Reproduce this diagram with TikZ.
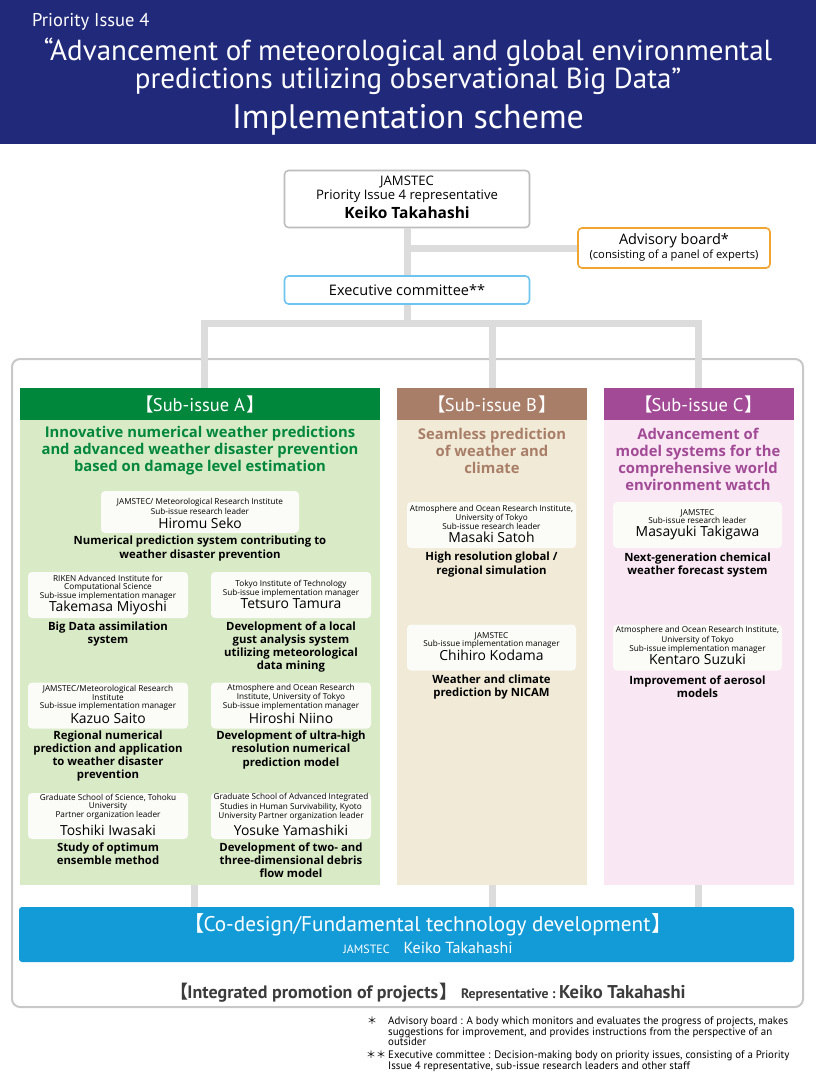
\documentclass[tikz,border=0pt]{standalone}
\usepackage{fontspec}
\setmainfont{Open Sans}
\newfontfamily\cond{PT Sans}
\newfontfamily\cjk{Noto Sans CJK JP}
\definecolor{bandnavy}{HTML}{212A7A}
\definecolor{linkgray}{HTML}{DCDCDC}
\definecolor{framegray}{HTML}{C8C8C8}
\definecolor{boxgray}{HTML}{BDBDBD}
\definecolor{advorange}{HTML}{F0A530}
\definecolor{execblue}{HTML}{6EC4EF}
\definecolor{greenA}{HTML}{00873C}
\definecolor{bodyA}{HTML}{D9EAC7}
\definecolor{brownB}{HTML}{A97E69}
\definecolor{bodyB}{HTML}{F1EAD6}
\definecolor{purpleC}{HTML}{A24A96}
\definecolor{bodyC}{HTML}{F9E7F3}
\definecolor{personfill}{HTML}{FBFBF7}
\definecolor{codeblue}{HTML}{139BD8}
\definecolor{integgray}{HTML}{3C3C3C}
\newcommand{\lbr}{{\cjk 【}\kern-1pt}
\newcommand{\rbr}{\kern1pt{\cjk 】}}
\begin{document}
\begin{tikzpicture}[x=1pt, y=-1pt]
\tikzstyle{link} = [draw=linkgray, line width=7]
\tikzstyle{topbox} = [draw, line width=1.6, rounded corners=4, fill=white, inner sep=0]
\tikzstyle{subhead} = [inner sep=0, minimum height=32, text=white, font=\cond\fontsize{18.5}{19}\selectfont]
\tikzstyle{panel} = [inner sep=0, minimum height=465]
\tikzstyle{person} = [fill=personfill, rounded corners=4, inner sep=0, minimum height=46]
\tikzstyle{org} = [inner sep=0, align=center, font=\fontsize{8.2}{7.8}\selectfont]
\tikzstyle{who} = [inner sep=0, font=\fontsize{13.9}{14}\selectfont]
\tikzstyle{task} = [inner sep=0, align=center, font=\bfseries\fontsize{11.35}{13.2}\selectfont]
\tikzstyle{theme} = [inner sep=0, align=center, font=\bfseries\fontsize{14.8}{17}\selectfont]

\useasboundingbox (0,0) rectangle (816,1076);
\fill[white] (0,0) rectangle (816,1076);

% title band
\fill[bandnavy] (0,0) rectangle (816,144);
\node[anchor=west, inner sep=0, text=white, font=\cond\fontsize{18.5}{19}\selectfont] (prio) at (32,22) {Priority Issue 4};
\node[align=center, inner sep=0, text=white, font=\cond\fontsize{29}{28}\selectfont] (title) at (408,66) {“Advancement of meteorological and global environmental\\predictions utilizing observational Big Data”};
\node[inner sep=0, text=white, font=\cond\fontsize{34}{34}\selectfont] (scheme) at (408,120) {Implementation scheme};

% representative, advisory board, executive committee
\node[topbox, draw=boxgray, minimum width=245, minimum height=57] (rep) at (407,199) {};
\node[inner sep=0, align=center, font=\fontsize{13.1}{14}\selectfont] (rep-org) at (407,189) {JAMSTEC\\Priority Issue 4 representative};
\node[inner sep=0, font=\bfseries\fontsize{15.5}{16}\selectfont] (rep-who) at (407,213) {Keiko Takahashi};
\node[topbox, draw=advorange, minimum width=192, minimum height=40] (adv) at (674,248) {};
\node[inner sep=0, font=\fontsize{14.5}{14}\selectfont] (adv-title) at (674,241) {Advisory board*};
\node[inner sep=0, font=\fontsize{11.2}{11}\selectfont] (adv-note) at (674,256) {(consisting of a panel of experts)};
\node[topbox, draw=execblue, minimum width=245, minimum height=28, font=\fontsize{14.5}{14}\selectfont] (exec) at (407,290) {Executive committee**};

% outer frame
\draw[framegray, line width=2, rounded corners=8] (12,359) rectangle (803,1007);

% sub-issues
\node[subhead, fill=greenA, minimum width=360] (headA) at (200,404) {\lbr Sub-issue A\rbr};
\node[panel, fill=bodyA, minimum width=360] (bodyA) at (200,652.5) {};
\node[subhead, fill=brownB, minimum width=190] (headB) at (492,404) {\lbr Sub-issue B\rbr};
\node[panel, fill=bodyB, minimum width=190] (bodyB) at (492,652.5) {};
\node[subhead, fill=purpleC, minimum width=190] (headC) at (698.5,404) {\lbr Sub-issue C\rbr};
\node[panel, fill=bodyC, minimum width=190] (bodyC) at (698.5,652.5) {};

\node[theme, text=greenA] (themeA) at (200,451) {Innovative numerical weather predictions\\and advanced weather disaster prevention\\based on damage level estimation};
\node[theme, text=brownB] (themeB) at (492,451) {Seamless prediction\\of weather and\\climate};
\node[theme, text=purpleC] (themeC) at (698,459.5) {Advancement of\\model systems for the\\comprehensive world\\environment watch};

% sub-issue A members
\node[person, minimum width=198, minimum height=42] (seko) at (200,512) {};
\node[org] (seko-org) at (200,506.5) {JAMSTEC/ Meteorological Research Institute\\Sub-issue research leader};
\node[who] (seko-who) at (200,523) {Hiromu Seko};
\node[task] (seko-task) at (200,548.5) {Numerical prediction system contributing to\\weather disaster prevention};

\node[person, minimum width=160] (miyoshi) at (108,595) {};
\node[org] (miyoshi-org) at (108,588) {RIKEN Advanced Institute for\\Computational Science\\Sub-issue implementation manager};
\node[who] (miyoshi-who) at (108,608) {Takemasa Miyoshi};
\node[task] (miyoshi-task) at (108,634) {Big Data assimilation\\system};

\node[person, minimum width=160] (tamura) at (291,595) {};
\node[org] (tamura-org) at (291,588.5) {Tokyo Institute of Technology\\Sub-issue implementation manager};
\node[who] (tamura-who) at (291,604) {Tetsuro Tamura};
\node[task] (tamura-task) at (291,647) {Development of a local\\gust analysis system\\utilizing meteorological\\data mining};

\node[person, minimum width=160] (saito) at (108,705.5) {};
\node[org] (saito-org) at (108,697.5) {JAMSTEC/Meteorological Research\\Institute\\Sub-issue implementation manager};
\node[who] (saito-who) at (108,718) {Kazuo Saito};
\node[task] (saito-task) at (108,756) {Regional numerical\\prediction and application\\to weather disaster\\prevention};

\node[person, minimum width=160] (niino) at (291,705.5) {};
\node[org] (niino-org) at (291,697.5) {Atmosphere and Ocean Research\\Institute, University of Tokyo\\Sub-issue implementation manager};
\node[who] (niino-who) at (291,718) {Hiroshi Niino};
\node[task] (niino-task) at (291,750) {Development of ultra-high\\resolution numerical\\prediction model};

\node[person, minimum width=160] (iwasaki) at (108,816) {};
\node[org] (iwasaki-org) at (108,807) {Graduate School of Science, Tohoku\\University\\Partner organization leader};
\node[who] (iwasaki-who) at (108,830) {Toshiki Iwasaki};
\node[task] (iwasaki-task) at (108,854) {Study of optimum\\ensemble method};

\node[person, minimum width=160] (yamashiki) at (291,816) {};
\node[org] (yamashiki-org) at (291,807) {Graduate School of Advanced Integrated\\Studies in Human Survivability, Kyoto\\University Partner organization leader};
\node[who] (yamashiki-who) at (291,830) {Yosuke Yamashiki};
\node[task] (yamashiki-task) at (291,860) {Development of two- and\\three-dimensional debris\\flow model};

% sub-issue B members
\node[person, minimum width=169] (satoh) at (491.5,525) {};
\node[org] (satoh-org) at (491.5,517.5) {Atmosphere and Ocean Research Institute,\\University of Tokyo\\Sub-issue research leader};
\node[who] (satoh-who) at (491.5,537) {Masaki Satoh};
\node[task] (satoh-task) at (491.5,564.5) {High resolution global /\\regional simulation};

\node[person, minimum width=169] (kodama) at (491.5,647.5) {};
\node[org] (kodama-org) at (491.5,640.5) {JAMSTEC\\Sub-issue implementation manager};
\node[who] (kodama-who) at (491.5,655) {Chihiro Kodama};
\node[task] (kodama-task) at (491.5,687) {Weather and climate\\prediction by NICAM};

% sub-issue C members
\node[person, minimum width=169] (takigawa) at (697.5,525) {};
\node[org] (takigawa-org) at (697.5,516.5) {JAMSTEC\\Sub-issue research leader};
\node[who] (takigawa-who) at (697.5,533) {Masayuki Takigawa};
\node[task] (takigawa-task) at (697.5,565) {Next-generation chemical\\weather forecast system};

\node[person, minimum width=169] (suzuki) at (697.5,647.5) {};
\node[org] (suzuki-org) at (697.5,640) {Atmosphere and Ocean Research Institute,\\University of Tokyo\\Sub-issue implementation manager};
\node[who] (suzuki-who) at (697.5,659) {Kentaro Suzuki};
\node[task] (suzuki-task) at (697.5,687) {Improvement of aerosol\\models};

% co-design
\node[inner sep=0, fill=codeblue, rounded corners=3, minimum width=775, minimum height=55] (codesign) at (406.5,934.5) {};
\node[inner sep=0, text=white, font=\cond\fontsize{21.2}{21}\selectfont] (codesign-title) at (428,925) {\lbr Co-design/Fundamental technology development\rbr};
\node[inner sep=0, text=white, font=\cond] (codesign-who) at (428,948) {{\fontsize{12}{12}\selectfont JAMSTEC}\hspace{14pt}{\fontsize{16}{16}\selectfont Keiko Takahashi}};

% connectors
\coordinate (bar) at (407,323);
\draw[link] (rep.south) -- (exec.north);
\draw[link] (rep.south |- adv.west) -- (adv.west);
\draw[link] (exec.south) -- (bar);
\draw[link] ([xshift=4pt]headA.north) |- (bar) -| (headC.north);
\draw[link] (bar -| headB.north) -- (headB.north);
\draw[link] ([xshift=-6pt]bodyA.south) -- ([xshift=-6pt]codesign.north -| bodyA.south);
\draw[link] (bodyB.south) -- (codesign.north -| bodyB.south);
\draw[link] (bodyC.south) -- (codesign.north -| bodyC.south);

% integrated promotion
\node[inner sep=0, text=integgray, font=\cond\bfseries] (integ) at (428,993) {{\fontsize{18}{18}\selectfont\lbr Integrated promotion of projects\rbr}\hspace{4pt}{\fontsize{13.7}{14}\selectfont Representative :} {\fontsize{18.5}{18}\selectfont Keiko Takahashi}};

% notes
\node[anchor=north, inner sep=0, font=\fontsize{10}{10.2}\selectfont] (star1) at (372,1017) {{\cjk ＊}};
\node[anchor=north west, align=left, inner sep=0, font=\cond\fontsize{10.9}{10.3}\selectfont] (note1) at (388,1017) {Advisory board : A body which monitors and evaluates the progress of projects, makes\\suggestions for improvement, and provides instructions from the perspective of an\\outsider};
\node[anchor=north, inner sep=0, font=\fontsize{10}{10.2}\selectfont] (star2) at (376,1051) {{\cjk ＊＊}};
\node[anchor=north west, align=left, inner sep=0, font=\cond\fontsize{10.9}{10.3}\selectfont] (note2) at (388,1051) {Executive committee : Decision-making body on priority issues, consisting of a Priority\\Issue 4 representative, sub-issue research leaders and other staff};
\end{tikzpicture}
\end{document}
